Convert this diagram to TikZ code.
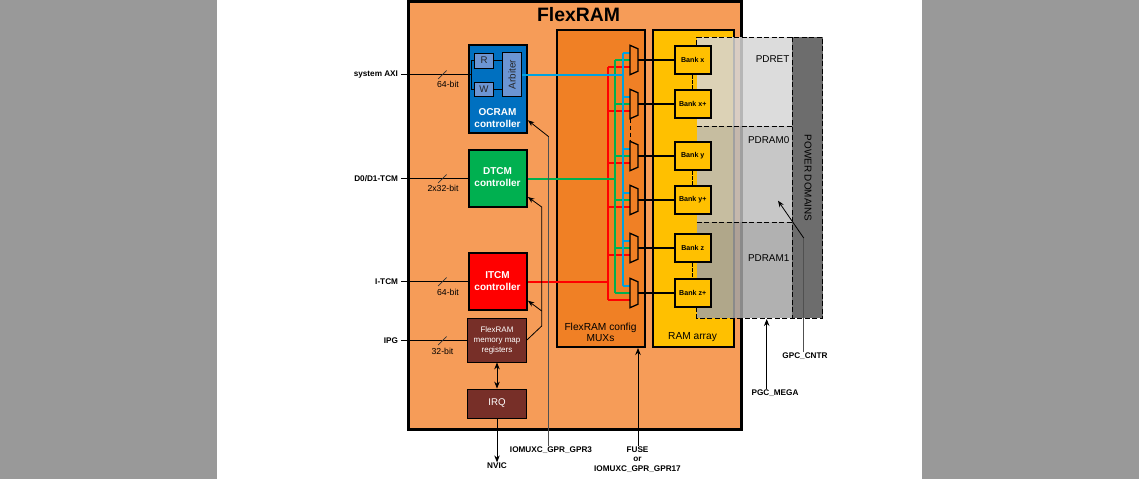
\documentclass[tikz,border=0pt]{standalone}
\usepackage{fontspec}
\setmainfont{Liberation Sans}
\usetikzlibrary{arrows.meta}
\definecolor{sidegray}{HTML}{999999}
\definecolor{flexorange}{HTML}{F69C58}
\definecolor{muxorange}{HTML}{F08025}
\definecolor{ramyellow}{HTML}{FFC000}
\definecolor{ocramblue}{HTML}{0070C0}
\definecolor{dtcmgreen}{HTML}{00B050}
\definecolor{itcmred}{HTML}{FF0000}
\definecolor{regbrown}{HTML}{772F28}
\definecolor{portblue}{HTML}{6C95D3}
\definecolor{wireblue}{HTML}{00A2E0}
\definecolor{linegray}{HTML}{505050}
\tikzset{
	lbl/.style={inner sep=0pt, font=\fontsize{8.2}{9.5}\selectfont\bfseries, align=center},
	sizelbl/.style={inner sep=0pt, font=\fontsize{8.7}{10}\selectfont},
	portlbl/.style={lbl, anchor=east, outer xsep=3pt},
	ctrl/.style={draw, line width=2pt, inner sep=0pt, minimum width=58pt, minimum height=57pt},
	ctrltxt/.style={inner sep=0pt, text=white, align=center, font=\fontsize{10}{12}\selectfont\bfseries},
	regbox/.style={draw, line width=.8pt, inner sep=0pt, fill=regbrown, text=white, minimum width=59pt, align=center},
	portbox/.style={draw, line width=1pt, inner sep=0pt, fill=portblue, text=black!85, minimum width=19pt, font=\fontsize{9.7}{11}\selectfont},
	bankbox/.style={draw, line width=2pt, inner sep=0pt, fill=ramyellow, minimum width=35.5pt, minimum height=28pt, font=\fontsize{7.1}{8}\selectfont\bfseries},
	muxbox/.style={inner sep=0pt, minimum width=7.6pt, minimum height=29pt},
	pdlbl/.style={inner sep=0pt, anchor=east, font=\fontsize{9.9}{12}\selectfont},
	pddash/.style={line width=.9pt, dash pattern=on 5pt off 2.5pt},
	wire/.style={line width=1.1pt},
	bus/.style={line width=2pt},
	tip/.style={-{Stealth[length=7pt,width=5.5pt]}},
	thin tip/.style={line width=.8pt, -{Stealth[length=6.5pt,width=5pt]}},
}
\begin{document}
\begin{tikzpicture}[x=1pt, y=-1pt]
	\useasboundingbox (0,0) rectangle (1139,479);
	\fill[sidegray] (0,0) rectangle (217,479);
	\fill[sidegray] (922,0) rectangle (1139,479);

	\node[draw, line width=3pt, fill=flexorange, inner sep=0pt, minimum width=332.5pt, minimum height=428pt] (flexram) at (574.75,215.5) {};
	\node[inner sep=0pt, font=\fontsize{19.4}{22}\selectfont\bfseries] (title) at (578.5,15) {FlexRAM};
	\node[draw, line width=2pt, fill=muxorange, inner sep=0pt, minimum width=88.5pt, minimum height=317pt] (config) at (600.75,188.5) {};
	\node[draw, line width=2pt, fill=ramyellow, inner sep=0pt, minimum width=81.5pt, minimum height=317pt] (ramarray) at (693.25,188.5) {};
	\node[inner sep=0pt, align=center, font=\fontsize{10.2}{11.5}\selectfont] (configtxt) at (600.5,332.5) {FlexRAM config\\MUXs};
	\node[inner sep=0pt, font=\fontsize{10.2}{11.5}\selectfont] (ramtxt) at (692.5,337) {RAM array};

	% power domains go over the array, the banks over them
	\fill[black!16, opacity=.85] (696.7,37.3) rectangle (792.3,126.3);
	\fill[black!26, opacity=.85] (696.7,126.3) rectangle (792.3,222.3);
	\fill[black!36, opacity=.85] (696.7,222.3) rectangle (792.3,318.3);
	\fill[black!62, opacity=.92] (792.3,37.3) rectangle (822.7,318.3);
	\draw[pddash] (696.7,45) -- (696.7,37.3) -- (822.7,37.3) -- (822.7,318.3) -- (696.7,318.3) -- (696.7,307);
	\draw[pddash] (792.3,37.3) -- (792.3,318.3);
	\draw[pddash] (696.7,126.3) -- (792.3,126.3);
	\draw[pddash] (696.7,222.3) -- (792.3,222.3);
	\node[pdlbl] (pdret) at (789.5,59.5) {PDRET};
	\node[pdlbl] (pdram0) at (789.5,140.5) {PDRAM0};
	\node[pdlbl] (pdram1) at (789.5,258.5) {PDRAM1};
	\node[inner sep=0pt, rotate=-90, font=\fontsize{9.9}{11}\selectfont] (powerdom) at (808,178) {POWER DOMAINS};

	\node[ctrl, fill=ocramblue, minimum height=88pt] (ocram) at (497.5,89) {};
	\node[ctrltxt] (ocramtxt) at (497.5,118.5) {OCRAM\\controller};
	\node[ctrl, fill=dtcmgreen] (dtcm) at (497.5,178.5) {};
	\node[ctrltxt] (dtcmtxt) at (497.5,177.5) {DTCM\\controller};
	\node[ctrl, fill=itcmred] (itcm) at (497.5,281.5) {};
	\node[ctrltxt] (itcmtxt) at (497.5,281) {ITCM\\controller};
	\node[regbox, minimum height=44pt, font=\fontsize{8}{10}\selectfont] (memmap) at (497,340) {FlexRAM\\memory map\\registers};
	\node[regbox, minimum height=29pt, font=\fontsize{9.7}{11}\selectfont] (irq) at (497,403.5) {IRQ};
	\node[portbox, minimum height=15pt] (rport) at (484,60.5) {R};
	\node[portbox, minimum height=14pt] (wport) at (484,89.5) {W};
	\node[portbox, minimum height=44pt, font=\fontsize{9.9}{11}\selectfont] (arbiter) at (512,74.5) {\rotatebox{90}{Arbiter}};

	\node[portlbl] (sysaxi) at (401,74.5) {system AXI};
	\node[portlbl] (tcmd) at (401,178.5) {D0/D1-TCM};
	\node[portlbl] (tcmi) at (401,281.5) {I-TCM};
	\node[portlbl] (ipg) at (401,340.5) {IPG};
	\node[sizelbl] (axibits) at (448,84.5) {64-bit};
	\node[sizelbl] (dbits) at (443,188.5) {2x32-bit};
	\node[sizelbl] (ibits) at (448,292.5) {64-bit};
	\node[sizelbl] (ipgbits) at (442.5,351.5) {32-bit};

	\coordinate (fork) at (471.5,74.5);
	\draw[wire] (sysaxi.east) -- (fork);
	\draw[wire] (rport.west) -| (fork) |- (wport.west);
	\draw[wire] (rport.east) -- (rport.east -| arbiter.west);
	\draw[wire] (wport.east) -- (wport.east -| arbiter.west);
	\draw[wire] (tcmd.east) -- (dtcm.west |- tcmd.east);
	\draw[wire] (tcmi.east) -- (itcm.west |- tcmi.east);
	\draw[wire] (ipg.east) -- (memmap.west |- ipg.east);
	\foreach \sl in {sysaxi,tcmd,tcmi,ipg}
		\draw[line width=.7pt, black!80] (\sl.east) ++(37,4.5) -- ++(8.5,-8.5);

	\foreach \bk/\yy/\txt in {bx/60/Bank x, bxp/104/Bank x+, by/156/Bank y, byp/200/Bank y+, bz/248/Bank z, bzp/293/Bank z+} {
		\node[muxbox] (mux\bk) at (634,\yy) {};
		\node[bankbox] (\bk) at (692.75,\yy) {\txt};
		\draw[bus, black] (mux\bk.east) -- (\bk.west);
		\draw[bus, itcmred] ([yshift=-7pt]mux\bk.west) -- ++(-22,0);
		\draw[bus, dtcmgreen] (mux\bk.west) -- ++(-15.5,0);
		\draw[bus, wireblue] ([yshift=7.3pt]mux\bk.west) -- ++(-7.5,0);
		\draw[line width=1.3pt] (mux\bk.north west) -- ([yshift=-3.5pt]mux\bk.north east) -- ([yshift=3.5pt]mux\bk.south east) -- (mux\bk.south west) -- cycle;
	}
	\foreach \ta/\tb in {bx/bxp, by/byp, bz/bzp}
		\draw[line width=.9pt, dash pattern=on 3.5pt off 1.5pt] (\ta.south) -- (\tb.north);
	\draw[line width=.6pt, dash pattern=on 4pt off 3pt] (muxbxp.south west) -- (muxby.north west);

	\coordinate (redbus) at (608,281.5);
	\coordinate (greenbus) at (614.5,178.5);
	\coordinate (bluebus) at (622.5,74.5);
	\draw[bus, itcmred] ([yshift=-7pt]redbus |- muxbx.west) -- ([yshift=-7pt]redbus |- muxbzp.west);
	\draw[bus, dtcmgreen] (greenbus |- muxbx.west) -- (greenbus |- muxbzp.west);
	\draw[bus, wireblue] ([yshift=7.3pt]bluebus |- muxbx.west) -- ([yshift=7.3pt]bluebus |- muxbzp.west);
	\draw[bus, wireblue] (arbiter.east) -- (bluebus);
	\draw[bus, dtcmgreen] (dtcm.east) -- (greenbus);
	\draw[bus, itcmred] (itcm.east) -- (redbus);

	\coordinate (regsplit) at (541.7,326);
	\coordinate (ditop) at (541.7,207);
	\coordinate (itsplit) at (541.7,311);
	\draw[thin tip] (memmap.east) -- (regsplit) -- (ditop) -- (527.9,197);
	\draw[thin tip] (itsplit) -- (527.9,300.7);
	\node[lbl] (gpr3) at (551,450) {IOMUXC\_GPR\_GPR3};
	\coordinate (gprtop) at (548.7,136.7);
	\draw[line width=.9pt, linegray] (gpr3.north -| gprtop) -- (gprtop);
	\draw[thin tip] (gprtop) -- (527.9,120.3);
	\draw[tip, line width=.9pt, {Stealth[length=7pt,width=5.5pt]}-{Stealth[length=7pt,width=5.5pt]}] (memmap.south) -- (irq.north);
	\node[lbl] (nvic) at (497,465.5) {NVIC};
	\draw[tip, line width=.9pt] (irq.south) -- (nvic.north);
	\node[lbl] (fuse) at (637.5,459.5) {FUSE\\or\\IOMUXC\_GPR\_GPR17};
	\draw[tip, line width=.9pt] (fuse.north -| muxbzp.east) -- (config.south -| muxbzp.east);

	\node[lbl] (gpccntr) at (805,356) {GPC\_CNTR};
	\coordinate (gpcknee) at (803.7,238);
	\draw[line width=.9pt, linegray] (gpccntr.north -| gpcknee) -- (gpcknee);
	\draw[thin tip] (gpcknee) -- (778,200.7);
	\node[lbl] (pgcmega) at (775,393) {PGC\_MEGA};
	\coordinate (pgctop) at (766.7,319);
	\draw[tip, line width=.9pt] (pgcmega.north -| pgctop) -- (pgctop);
\end{tikzpicture}
\end{document}
